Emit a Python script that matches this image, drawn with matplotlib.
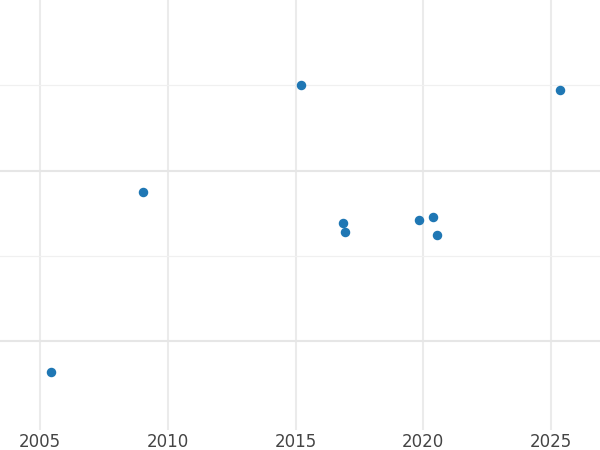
import matplotlib
matplotlib.use("Agg")
import matplotlib.pyplot as plt
from matplotlib.ticker import MultipleLocator, FixedLocator

years = [2005.43, 2009.03, 2015.21, 2016.86, 2016.94, 2019.83, 2020.38, 2020.54, 2025.35]
values = [0.64, 2.75, 4.0, 2.39, 2.28, 2.42, 2.46, 2.24, 3.95]

fig = plt.figure(figsize=(6, 4.5), dpi=100)
ax = fig.add_axes([0, 0.045, 1, 0.955])
ax.set_xlim(2003.43, 2026.92)
ax.set_ylim(-0.04, 5.0)
ax.xaxis.set_major_locator(MultipleLocator(5))
ax.yaxis.set_major_locator(FixedLocator([1, 3]))
ax.yaxis.set_minor_locator(FixedLocator([2, 4]))
ax.grid(True, axis='x', which='major', color='#ebebeb', lw=1.5)
ax.grid(True, axis='y', which='major', color='#e6e6e6', lw=1.5)
ax.grid(True, axis='y', which='minor', color='#f0f0f0', lw=0.9)
ax.set_axisbelow(True)
for s in ax.spines.values():
    s.set_visible(False)
ax.tick_params(axis='both', which='both', length=0)
ax.tick_params(axis='x', labelsize=12, labelcolor='#444444', pad=2)
ax.set_yticklabels([])
ax.scatter(years, values, s=34, color='#1f77b4', zorder=3)
fig.savefig('out.png', dpi=100)
